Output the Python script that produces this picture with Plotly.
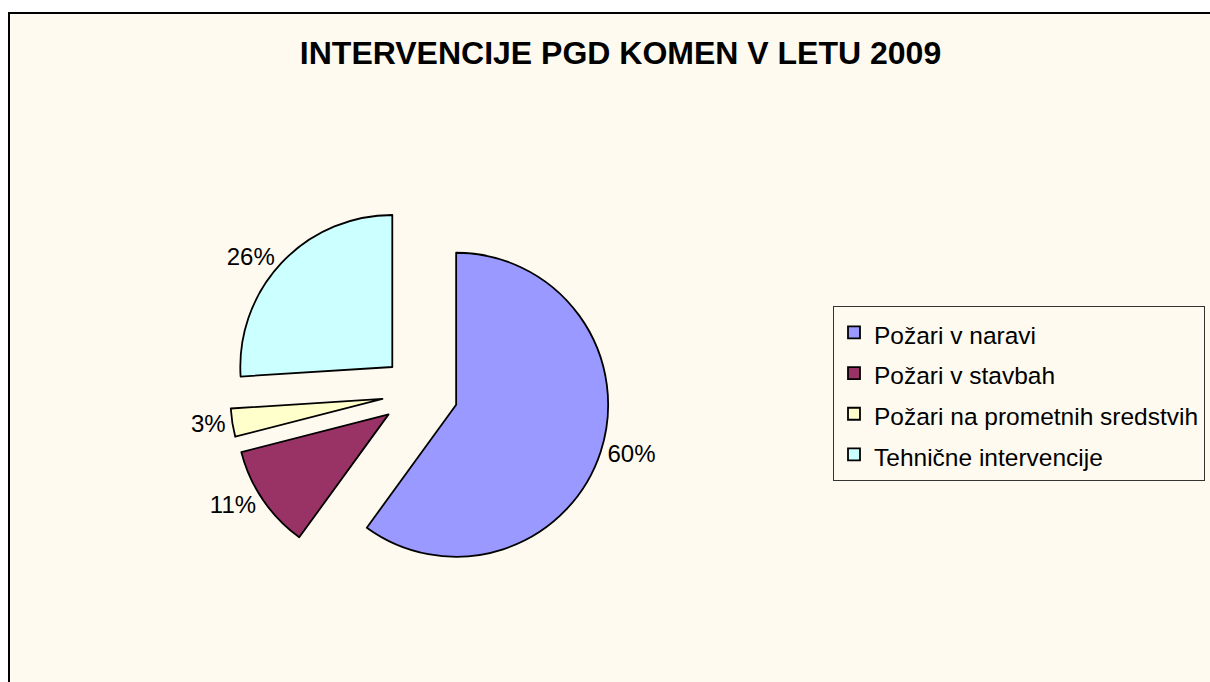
import plotly.graph_objects as go

# ---- data ----
categories = ["Požari v naravi", "Požari v stavbah", "Požari na prometnih sredstvih", "Tehnične intervencije"]
values = [60, 11, 3, 26]
colors = ["#9999FF", "#993366", "#FFFFCC", "#CCFFFF"]
title_text = "INTERVENCIJE PGD KOMEN V LETU 2009"

W, H = 1210, 682
BG = "#FFFAF0"
FONT = "Liberation Sans, Arial, sans-serif"

legend_labels = ['<span style="font-size:24.5px">%s</span>' % c for c in categories]

cx, cy, box = 420, 393, 380  # pie box in pixels (centre, size incl. pull)

fig = go.Figure(
    go.Pie(
        labels=legend_labels,
        values=values,
        sort=False,
        direction="clockwise",
        rotation=0,
        pull=[0.25] * len(values),
        marker=dict(colors=colors, line=dict(color="#000000", width=1.8)),
        textinfo="percent",
        texttemplate="%{percent:.0%}",
        textposition="outside",
        outsidetextfont=dict(family=FONT, size=24, color="#000000"),
        domain=dict(
            x=[(cx - box / 2) / W, (cx + box / 2) / W],
            y=[1 - (cy + box / 2) / H, 1 - (cy - box / 2) / H],
        ),
        hoverinfo="label+percent",
    )
)

fig.update_layout(
    width=W,
    height=H,
    margin=dict(l=0, r=0, t=0, b=0, autoexpand=False),
    paper_bgcolor="#FFFFFF",
    plot_bgcolor=BG,
    font=dict(family=FONT, color="#000000"),
    title=dict(
        text=title_text,
        x=620.5 / W,
        y=1 - 53 / H,
        xanchor="center",
        yanchor="middle",
        xref="paper",
        yref="paper",
        font=dict(family=FONT, size=32, color="#000000", weight="bold"),
    ),
    legend=dict(
        x=833 / W,
        y=1 - 306 / H,
        xanchor="left",
        yanchor="top",
        bgcolor=BG,
        bordercolor="#333333",
        borderwidth=1,
        font=dict(family=FONT, size=29, color="#000000"),
    ),
    shapes=[
        dict(
            type="rect",
            xref="paper",
            yref="paper",
            x0=9 / W,
            x1=1.2,
            y0=-0.2,
            y1=1 - 13 / H,
            fillcolor=BG,
            line=dict(color="#000000", width=2),
            layer="below",
        )
    ],
)

fig.write_html("out.html")
